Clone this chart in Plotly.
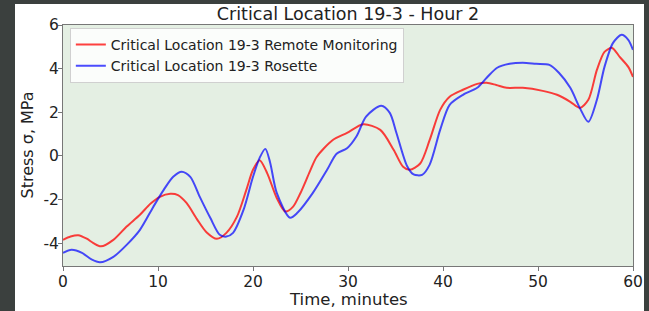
import plotly.graph_objects as go

# Remote Monitoring (red)
t_red = [0, 0.8, 1.6, 2.5, 3.2, 4.0, 5.3, 6.7, 8.1, 9.2, 10.2, 11.3, 12.1, 13.0, 14.1, 15.1,
         16.2, 17.2, 18.3, 19.3, 20.0, 20.7, 21.5, 22.5, 23.4, 24.2, 25.0, 26.0, 26.7, 28.4,
         29.9, 31.6, 33.4, 34.8, 35.8, 36.5, 37.6, 38.6, 39.7, 40.7, 42.1, 43.6, 44.6, 45.6,
         46.7, 48.4, 50.5, 52.0, 53.4, 54.4, 55.3, 56.2, 57.0, 57.8, 58.6, 59.5, 60.0]
v_red = [-3.85, -3.7, -3.64, -3.8, -4.0, -4.15, -3.85, -3.24, -2.7, -2.2, -1.88, -1.74, -1.8,
         -2.16, -2.9, -3.5, -3.8, -3.53, -2.8, -1.56, -0.64, -0.2, -0.8, -1.93, -2.55, -2.34,
         -1.7, -0.7, -0.05, 0.73, 1.05, 1.45, 1.19, 0.28, -0.5, -0.64, -0.35, 0.73, 2.11, 2.71,
         3.03, 3.3, 3.35, 3.25, 3.12, 3.12, 2.98, 2.8, 2.48, 2.2, 2.57, 3.94, 4.77, 4.95, 4.54,
         4.08, 3.62]

# Rosette (blue)
t_blue = [0, 0.9, 2.0, 3.0, 3.9, 5.3, 6.7, 8.1, 9.5, 10.6, 11.6, 12.5, 13.4, 14.4, 15.5, 16.5,
          17.2, 17.9, 19.0, 20.0, 20.7, 21.3, 21.8, 22.5, 23.9, 24.7, 26.3, 27.8, 28.8, 29.9,
          30.9, 31.9, 33.5, 34.4, 35.1, 36.2, 36.9, 37.8, 38.6, 39.7, 40.7, 42.1, 43.6, 44.6,
          45.7, 47.0, 48.4, 49.8, 51.2, 52.2, 53.4, 54.4, 55.3, 56.2, 57.0, 57.9, 58.8, 59.5, 60.0]
v_blue = [-4.45, -4.31, -4.45, -4.75, -4.88, -4.63, -4.08, -3.39, -2.34, -1.56, -0.96, -0.73,
          -0.96, -1.88, -2.84, -3.62, -3.7, -3.53, -2.48, -0.96, -0.09, 0.32, -0.3, -1.7, -2.84,
          -2.6, -1.7, -0.64, 0.1, 0.35, 0.9, 1.8, 2.3, 1.97, 1.05, -0.45, -0.85, -0.87, -0.4,
          1.19, 2.34, 2.8, 3.12, 3.58, 4.04, 4.22, 4.27, 4.22, 4.17, 3.81, 3.12, 2.2, 1.56, 2.57,
          4.08, 5.18, 5.55, 5.32, 4.86]

x_ticks = [0, 10, 20, 30, 40, 50, 60]
y_ticks = [-4, -2, 0, 2, 4, 6]
y_tick_labels = ["-4", "-2", "0", "2", "4", "6"]

title = "Critical Location 19-3 - Hour 2"
x_title = "Time, minutes"
y_title = "Stress σ, MPa"
name_red = "Critical Location 19-3 Remote Monitoring"
name_blue = "Critical Location 19-3 Rosette"

W, H = 649, 311
L, R, T, B = 63, 16, 25, 45
pw, ph = W - L - R, H - T - B

font = "DejaVu Sans, Arial, sans-serif"

fig = go.Figure()
fig.add_trace(go.Scatter(x=t_red, y=v_red, mode="lines", name=name_red,
                         line=dict(color="rgba(255,0,0,0.75)", width=2, shape="spline", smoothing=0.8)))
fig.add_trace(go.Scatter(x=t_blue, y=v_blue, mode="lines", name=name_blue,
                         line=dict(color="rgba(0,0,255,0.7)", width=2, shape="spline", smoothing=0.8)))

# white figure area and green plot background
fig.add_shape(type="rect", xref="paper", yref="paper", layer="below",
              x0=(15 - L) / pw, x1=(644 - L) / pw, y0=-(B + 5) / ph, y1=(H - B - 4) / ph,
              fillcolor="white", line=dict(width=0))
fig.add_shape(type="rect", xref="paper", yref="paper", layer="below",
              x0=0, x1=1, y0=0, y1=1, fillcolor="#e4efe3", line=dict(width=0))

# axis titles as annotations for precise placement
fig.add_annotation(text=x_title, xref="paper", yref="paper", x=0.5, y=-(299 - (H - B)) / ph,
                   xanchor="center", yanchor="middle", showarrow=False,
                   font=dict(size=16.5, color="#222"))
fig.add_annotation(text=y_title, xref="paper", yref="paper", x=-(L - 27) / pw, y=0.5,
                   xanchor="center", yanchor="middle", showarrow=False, textangle=-90,
                   font=dict(size=16, color="#222"))

fig.update_layout(
    width=W, height=H,
    margin=dict(l=L, r=R, t=T, b=B, autoexpand=False),
    paper_bgcolor="#3b403e",
    plot_bgcolor="#e4efe3",
    font=dict(family=font, size=15.5, color="#222"),
    title=dict(text=title, x=(L + pw / 2) / W, xanchor="center", y=1 - 14 / H,
               yanchor="middle", yref="container", font=dict(size=17.5, color="#222")),
    showlegend=True,
    legend=dict(x=0.012, y=(H - B - 28) / ph, xanchor="left", yanchor="top",
                bgcolor="rgba(255,255,255,0.85)", bordercolor="#d0d0d0", borderwidth=1,
                font=dict(size=14, color="#222"), tracegroupgap=0, itemwidth=30),
    xaxis=dict(range=[0, 60], tickvals=x_ticks, showgrid=False, zeroline=False,
               showline=True, linecolor="#777", linewidth=1, mirror=True,
               ticks="outside", ticklen=4, tickcolor="#777", automargin=False,
               tickfont=dict(size=15.5), ticklabelstandoff=-3),
    yaxis=dict(range=[-5.05, 6.0], tickvals=y_ticks, ticktext=y_tick_labels,
               showgrid=False, zeroline=False,
               showline=True, linecolor="#777", linewidth=1, mirror=True,
               ticks="outside", ticklen=4, tickcolor="#777", automargin=False,
               tickfont=dict(size=15.5), ticklabelstandoff=-4),
)

fig.write_html("out.html", config={"displayModeBar": False},
               post_script="document.body.style.margin='0px';")
